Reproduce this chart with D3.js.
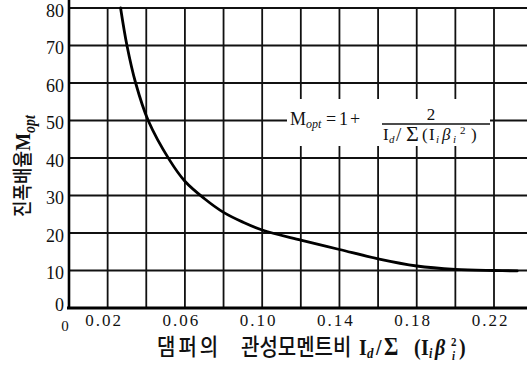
<!DOCTYPE html>
<html>
<head>
<meta charset="utf-8">
<script src="https://cdn.jsdelivr.net/npm/d3@7"></script>
<style>
  html, body { margin: 0; padding: 0; background: #fff; }
  svg { display: block; }
</style>
</head>
<body>
<svg id="chart" width="527" height="367"></svg>
<script>
// Damper inertia ratio Id / Σ(Ii·βi²) against optimum amplification factor M_opt
const ratioValues = [0.0267, 0.0300, 0.0345, 0.0410, 0.052, 0.060, 0.070, 0.080, 0.090, 0.10, 0.12, 0.14, 0.16, 0.18, 0.20, 0.22, 0.232];
const mOptValues  = [80,     70,     60,     50,     39.5,  33.8,  29.2,  25.5,  22.9,  20.8, 18.1, 15.6, 13.1, 11.2, 10.3, 10.0, 9.9];

const yTickValues = [0, 10, 20, 30, 40, 50, 60, 70, 80];
const xGridValues = [0.02, 0.04, 0.06, 0.08, 0.10, 0.12, 0.14, 0.16, 0.18, 0.20, 0.22];
const xTickValues = [0.02, 0.06, 0.10, 0.14, 0.18, 0.22];
const xTickLabels = ["0.02", "0.06", "0.10", "0.14", "0.18", "0.22"];

const SERIF = "'Liberation Serif', 'DejaVu Serif', serif";
const KOREAN = "'Noto Sans CJK KR', 'Noto Sans CJK SC', sans-serif";

const W = 527, H = 367;
const svg = d3.select("#chart");
svg.append("rect").attr("width", W).attr("height", H).attr("fill", "#fff");

const x = d3.scaleLinear().domain([0, 0.22]).range([69, 494]);
const y = d3.scaleLinear().domain([0, 80]).range([308, 8]);
const plotRight = W;

// grid
const grid = svg.append("g").attr("stroke", "#111").attr("stroke-width", 1.8);
grid.selectAll("line.h").data(yTickValues.filter(v => v > 0)).join("line")
  .attr("class", "h")
  .attr("x1", x(0)).attr("x2", plotRight)
  .attr("y1", d => y(d)).attr("y2", d => y(d));
grid.selectAll("line.v").data(xGridValues).join("line")
  .attr("class", "v")
  .attr("x1", d => x(d)).attr("x2", d => x(d))
  .attr("y1", y(0)).attr("y2", y(80));

// white patch behind the formula
svg.append("rect")
  .attr("x", 287).attr("y", 99).attr("width", 203).attr("height", 47)
  .attr("fill", "#fff");

// axes
const yAxis = d3.axisLeft(y).tickValues(yTickValues).tickSize(0).tickPadding(5);
const gy = svg.append("g").attr("transform", `translate(${x(0)},0)`).call(yAxis);
gy.select(".domain").attr("stroke", "#000").attr("stroke-width", 2.6)
  .attr("d", `M0,${y(0) + 1}V0`);
gy.selectAll("text")
  .attr("font-family", SERIF).attr("font-size", 18).attr("fill", "#111")
  .attr("dy", d => d === 0 ? "0.15em" : "0.45em");

const xAxis = d3.axisBottom(x).tickValues(xTickValues).tickSize(0)
  .tickFormat((d, i) => xTickLabels[i]);
const gx = svg.append("g").attr("transform", `translate(0,${y(0)})`).call(xAxis);
gx.select(".domain").attr("stroke", "#000").attr("stroke-width", 3)
  .attr("d", `M${x(0) - 2},0H${plotRight}`);
gx.selectAll("text")
  .attr("font-family", SERIF).attr("font-size", 17).attr("fill", "#111")
  .attr("letter-spacing", "2px")
  .attr("x", -4).attr("y", 18).attr("dy", 0);

// origin label on the x axis
svg.append("text").attr("x", 65).attr("y", 331)
  .attr("text-anchor", "middle").attr("font-family", SERIF).attr("font-size", 15)
  .attr("fill", "#111").text("0");

// curve
const line = d3.line()
  .x((d, i) => x(ratioValues[i]))
  .y(d => y(d))
  .curve(d3.curveCatmullRom.alpha(0.5));
svg.append("path").datum(mOptValues)
  .attr("d", line)
  .attr("fill", "none").attr("stroke", "#000").attr("stroke-width", 2.8)
  .attr("stroke-linecap", "round");

// formula: M_opt = 1 + 2 / (Id / Σ(Ii βi²))
const f = svg.append("g").attr("font-family", SERIF).attr("fill", "#111");
function put(txt, px, py, size, opts = {}) {
  const t = f.append("text").attr("x", px).attr("y", py).attr("font-size", size).text(txt);
  if (opts.italic) t.attr("font-style", "italic");
  if (opts.anchor) t.attr("text-anchor", opts.anchor);
  return t;
}
put("M", 290, 125, 18);
put("opt", 306, 128, 12, { italic: true });
put("=", 326, 125, 18);
put("1", 339, 125, 18);
put("+", 350, 125, 18);
put("2", 431, 120, 17, { anchor: "middle" });
f.append("line").attr("x1", 382).attr("x2", 490).attr("y1", 124).attr("y2", 124)
  .attr("stroke", "#111").attr("stroke-width", 1.3);
put("I", 383, 140, 17);
put("d", 389, 143, 11, { italic: true });
put("/", 396, 141, 19);
put("Σ", 406, 141, 22);
put("(", 422, 140, 17);
put("I", 429, 140, 17);
put("i", 436, 143, 11, { italic: true });
put("β", 442, 140, 17, { italic: true });
put("i", 453, 143, 11, { italic: true });
put("2", 460, 134, 11);
put(")", 471, 140, 17);

// y axis title (rotated)
const yt = svg.append("text")
  .attr("transform", "translate(30,217) rotate(-90) scale(1,1.15)")
  .attr("fill", "#111");
yt.append("tspan").attr("font-family", KOREAN).attr("font-size", 18).attr("font-weight", 500)
  .text("진폭배율");
yt.append("tspan").attr("font-family", SERIF).attr("font-size", 19).attr("font-weight", "bold")
  .text("M");
yt.append("tspan").attr("font-family", SERIF).attr("font-size", 14).attr("font-weight", "bold")
  .attr("font-style", "italic").attr("dy", 4).text("opt");

// x axis title
const xt = svg.append("g").attr("fill", "#111")
  .attr("transform", "translate(0,355) scale(1,1.15)");
xt.append("text").attr("x", 157).attr("y", 0)
  .attr("font-family", KOREAN).attr("font-size", 20).attr("font-weight", 500)
  .attr("letter-spacing", "3px").text("댐퍼의");
xt.append("text").attr("x", 241).attr("y", 0)
  .attr("font-family", KOREAN).attr("font-size", 20).attr("font-weight", 500)
  .text("관성모멘트비");
function tput(txt, px, py, size, italic) {
  xt.append("text").attr("x", px).attr("y", py).attr("font-size", size)
    .attr("font-family", SERIF).attr("font-weight", "bold")
    .attr("font-style", italic ? "italic" : "normal").text(txt);
}
tput("I", 359, 0, 20);
tput("d", 367, 3, 13, true);
tput("/", 376, 0, 20);
tput("Σ", 384, 0, 22);
tput("(", 414, 0, 20);
tput("I", 421, 0, 20);
tput("i", 429, 3, 12, true);
tput("β", 435, 0, 20, true);
tput("2", 451, -8, 11);
tput("i", 452, 4, 11, true);
tput(")", 459, 0, 20);
</script>
</body>
</html>
